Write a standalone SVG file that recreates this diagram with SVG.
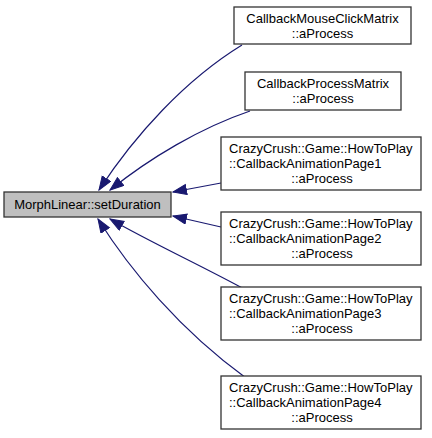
<svg xmlns="http://www.w3.org/2000/svg" width="432" height="438" viewBox="0 0 432 438">
<style>
.n{fill:#ffffff;stroke:#333333;stroke-width:1.3}
.m{fill:#bfbfbf;stroke:#333333;stroke-width:1.3}
text{font-family:"Liberation Sans",Arial,sans-serif;font-size:13px;fill:#000000}
.c{text-anchor:middle}
.e{fill:none;stroke:#191970;stroke-width:1.2}
</style>
<defs>
<marker id="ah" markerWidth="15" markerHeight="12" refX="14" refY="5.5" orient="auto" markerUnits="userSpaceOnUse">
<path d="M0.5,0.5 L14,5.5 L0.5,10.5 Z" fill="#191970" stroke="#191970" stroke-width="1"/>
</marker>
</defs>
<rect width="432" height="438" fill="#ffffff"/>
<g id="connectors">
<path class="e" d="M242,45 C185,80 135,135 99,190" marker-end="url(#ah)"/>
<path class="e" d="M250,111 C200,128 150,158 110,190" marker-end="url(#ah)"/>
<path class="e" d="M221,183 L173,192" marker-end="url(#ah)"/>
<path class="e" d="M221,227 L173,216" marker-end="url(#ah)"/>
<path class="e" d="M246,290 C200,265 150,242 110,219" marker-end="url(#ah)"/>
<path class="e" d="M246,378 C180,330 130,270 98,219" marker-end="url(#ah)"/>
</g>
<g id="node0">
<rect class="m" x="4" y="192" width="167" height="25"/>
<text class="c" x="87.5" y="209">MorphLinear::setDuration</text>
</g>
<g id="node1">
<rect class="n" x="234" y="7" width="177" height="37"/>
<text class="c" x="322.5" y="23">CallbackMouseClickMatrix</text>
<text class="c" x="322.5" y="38">::aProcess</text>
</g>
<g id="node2">
<rect class="n" x="245" y="72" width="156" height="38"/>
<text class="c" x="323" y="88">CallbackProcessMatrix</text>
<text class="c" x="323" y="103">::aProcess</text>
</g>
<g id="node3">
<rect class="n" x="221" y="137" width="200" height="53"/>
<text x="229" y="153">CrazyCrush::Game::HowToPlay</text>
<text x="229" y="168">::CallbackAnimationPage1</text>
<text class="c" x="322" y="183">::aProcess</text>
</g>
<g id="node4">
<rect class="n" x="221" y="212" width="200" height="53"/>
<text x="229" y="228">CrazyCrush::Game::HowToPlay</text>
<text x="229" y="243">::CallbackAnimationPage2</text>
<text class="c" x="322" y="258">::aProcess</text>
</g>
<g id="node5">
<rect class="n" x="221" y="287" width="200" height="53"/>
<text x="229" y="303">CrazyCrush::Game::HowToPlay</text>
<text x="229" y="318">::CallbackAnimationPage3</text>
<text class="c" x="322" y="333">::aProcess</text>
</g>
<g id="node6">
<rect class="n" x="221" y="376" width="200" height="53"/>
<text x="229" y="392">CrazyCrush::Game::HowToPlay</text>
<text x="229" y="407">::CallbackAnimationPage4</text>
<text class="c" x="322" y="422">::aProcess</text>
</g>
</svg>
